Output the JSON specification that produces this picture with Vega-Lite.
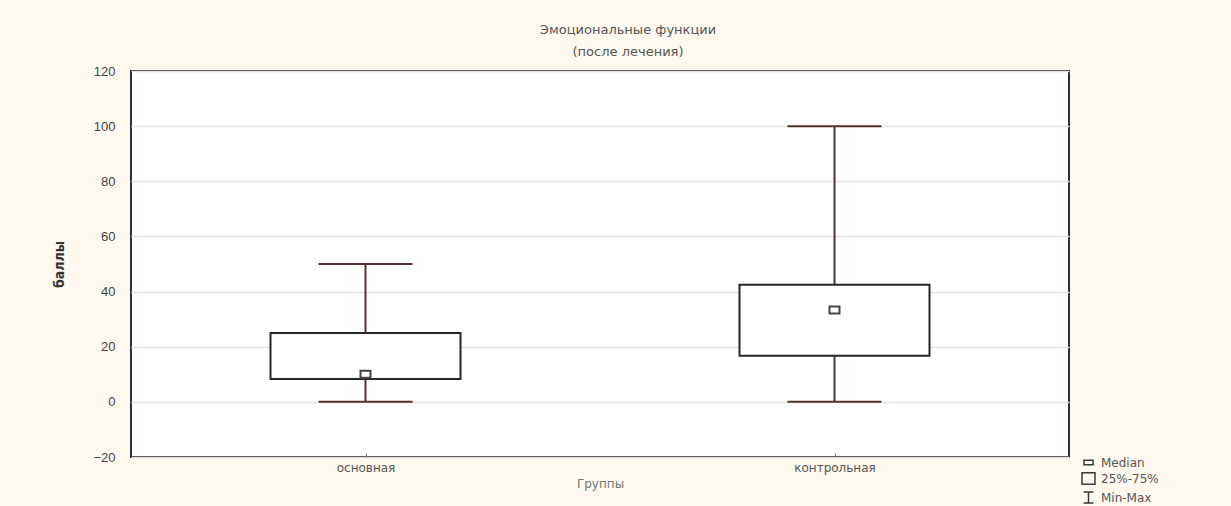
{
  "$schema": "https://vega.github.io/schema/vega-lite/v6.json",
  "width": 938,
  "height": 386,
  "autosize": {"type": "none"},
  "padding": {"left": 131, "top": 71, "right": 162, "bottom": 49},
  "background": "#fdf9ef",
  "config": {
    "view": {"fill": "#ffffff", "stroke": "#2e2e2e", "strokeWidth": 2},
    "font": "DejaVu Sans"
  },
  "title": {
    "text": ["Эмоциональные функции", "(после лечения)"],
    "font": "DejaVu Sans",
    "fontSize": 13,
    "fontWeight": "normal",
    "color": "#555555",
    "lineHeight": 22,
    "anchor": "middle",
    "dx": 28,
    "offset": 6
  },
  "data": {
    "values": [
      {"group": "основная", "min": 0, "q1": 8.3, "median": 10, "q3": 25, "max": 50},
      {"group": "контрольная", "min": 0, "q1": 16.7, "median": 33.3, "q3": 42.5, "max": 100}
    ]
  },
  "encoding": {
    "x": {
      "field": "group",
      "type": "nominal",
      "sort": ["основная", "контрольная"],
      "scale": {"type": "point", "padding": 0.5},
      "axis": {
        "title": "Группы",
        "titleFont": "DejaVu Sans",
        "titleFontSize": 12,
        "titleFontWeight": "normal",
        "titleColor": "#777777",
        "titlePadding": 5,
        "labelAngle": 0,
        "labelFont": "DejaVu Sans",
        "labelFontSize": 12,
        "labelColor": "#555555",
        "labelPadding": 9,
        "domain": false,
        "ticks": true,
        "tickSize": -4,
        "tickColor": "#888888",
        "grid": false
      }
    }
  },
  "layer": [
    {
      "mark": {"type": "rule", "color": "#553232", "strokeWidth": 2},
      "encoding": {
        "y": {
          "field": "min",
          "type": "quantitative",
          "scale": {"domain": [-20, 120], "nice": false, "zero": false},
          "axis": {
            "title": "баллы",
            "titleFont": "DejaVu Sans Condensed, DejaVu Sans",
            "titleFontSize": 14,
            "titleFontWeight": "bold",
            "titleColor": "#333333",
            "titlePadding": 26,
            "values": [-20, 0, 20, 40, 60, 80, 100, 120],
            "labelFont": "Liberation Sans",
            "labelFontSize": 13,
            "labelColor": "#444444",
            "labelPadding": 16,
            "ticks": false,
            "domain": false,
            "grid": true,
            "gridColor": "#e2e2e2",
            "gridWidth": 1.5
          }
        },
        "y2": {"field": "max"}
      }
    },
    {
      "mark": {"type": "bar", "size": 190, "fill": "#ffffff", "stroke": "#262626", "strokeWidth": 2},
      "encoding": {
        "y": {"field": "q1", "type": "quantitative"},
        "y2": {"field": "q3"}
      }
    },
    {
      "mark": {"type": "tick", "size": 94, "thickness": 2, "color": "#553232", "opacity": 1},
      "encoding": {"y": {"field": "min", "type": "quantitative"}}
    },
    {
      "mark": {"type": "tick", "size": 94, "thickness": 2, "color": "#553232", "opacity": 1},
      "encoding": {"y": {"field": "max", "type": "quantitative"}}
    },
    {
      "mark": {"type": "point", "shape": "M-1,-0.7H1V0.7H-1Z", "size": 100, "filled": false, "stroke": "#444444", "strokeWidth": 2, "opacity": 1},
      "encoding": {"y": {"field": "median", "type": "quantitative"}}
    },
    {
      "transform": [{"filter": "false"}],
      "mark": {"type": "point", "filled": false},
      "encoding": {
        "shape": {
          "field": "group",
          "type": "nominal",
          "scale": {
            "domain": ["Median", "25%-75%", "Min-Max"],
            "range": [
              "M-0.7,-0.35H0.7V0.35H-0.7Z",
              "M-1,-0.9H1V0.9H-1Z",
              "M-0.75,-0.85H0.75M0,-0.85V0.85M-0.75,0.85H0.75"
            ]
          },
          "legend": {
            "title": null,
            "orient": "none",
            "legendX": 950,
            "legendY": 384,
            "padding": 0,
            "rowPadding": 0,
            "symbolSize": 169,
            "symbolStrokeColor": "#3a3a3a",
            "symbolFillColor": "transparent",
            "symbolStrokeWidth": 1.5,
            "symbolOpacity": 1,
            "labelFont": "DejaVu Sans",
            "labelFontSize": 12,
            "labelColor": "#555555",
            "labelOffset": 5
          }
        }
      }
    }
  ]
}
